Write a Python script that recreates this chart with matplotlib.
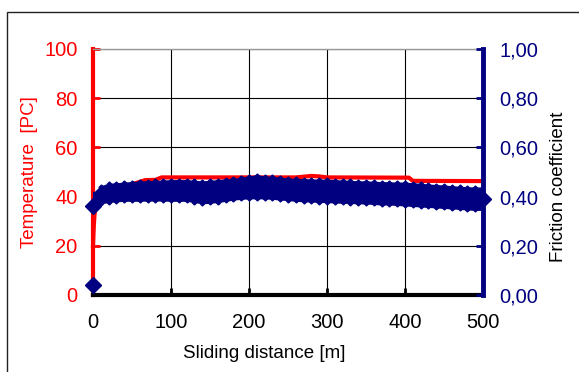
import matplotlib
matplotlib.use("Agg")
import matplotlib.pyplot as plt
from matplotlib.patches import Rectangle

plt.rcParams['font.family'] = ['Liberation Sans', 'DejaVu Sans']

# ---- data ----
temp_dist = [0, 1, 2, 4, 8, 15, 30, 50, 67, 80, 88, 150, 200, 260, 280, 290, 300, 405, 410, 500]
temperature = [20, 28, 33, 36, 39, 41, 43, 45, 46.7, 46.8, 47.8, 47.8, 47.8, 47.8, 48.4, 48.2, 47.8, 47.7, 46.4, 46.3]

fric_dist = list(range(0, 501, 10))
friction_upper = [0.41, 0.44, 0.45, 0.452, 0.455, 0.457, 0.46, 0.46, 0.462, 0.463,
                  0.465, 0.465, 0.465, 0.462, 0.46, 0.462, 0.465, 0.468, 0.47, 0.475,
                  0.48, 0.485, 0.48, 0.478, 0.475, 0.472, 0.47, 0.469, 0.468, 0.467,
                  0.467, 0.465, 0.463, 0.462, 0.46, 0.46, 0.458, 0.457, 0.456, 0.455,
                  0.455, 0.452, 0.45, 0.447, 0.445, 0.443, 0.44, 0.438, 0.436, 0.435,
                  0.435]
friction_lower = [0.37, 0.375, 0.38, 0.383, 0.385, 0.385, 0.385, 0.386, 0.386, 0.386,
                  0.385, 0.385, 0.385, 0.38, 0.375, 0.377, 0.38, 0.385, 0.39, 0.393,
                  0.395, 0.395, 0.395, 0.393, 0.39, 0.388, 0.385, 0.383, 0.382, 0.38,
                  0.38, 0.378, 0.377, 0.376, 0.375, 0.374, 0.372, 0.37, 0.37, 0.368,
                  0.366, 0.364, 0.362, 0.36, 0.358, 0.356, 0.354, 0.352, 0.35, 0.348,
                  0.348]
fric_special_dist = [0, 0, 500]
fric_special = [0.04, 0.36, 0.39]

x_ticks = [0, 100, 200, 300, 400, 500]
temp_ticks = [0, 20, 40, 60, 80, 100]
fric_ticks = [0.0, 0.2, 0.4, 0.6, 0.8, 1.0]
fric_tick_labels = ['0,00', '0,20', '0,40', '0,60', '0,80', '1,00']

RED = '#FF0000'
NAVY = '#000080'

fig = plt.figure(figsize=(5.79, 3.72), dpi=100)
# outer frame
fig.patches.append(Rectangle((7 / 579, -0.1), 1.2, (1 - 12 / 372) + 0.1,
                             transform=fig.transFigure, fill=False,
                             edgecolor='#222222', linewidth=1.0))

ax = fig.add_axes([93 / 579, 1 - 295 / 372, 390 / 579, 246 / 372])
ax.set_xlim(0, 500)
ax.set_ylim(0, 100)
ax.set_xticks(x_ticks)
ax.set_yticks(temp_ticks)
ax.grid(True, color='black', linewidth=0.8)
ax.set_axisbelow(True)

ax.plot(temp_dist, temperature, color=RED, linewidth=3, zorder=3, clip_on=False)

ax.spines['top'].set_color('#999999')
ax.spines['top'].set_linewidth(1.0)
ax.spines['right'].set_visible(False)
ax.spines['left'].set_color(RED)
ax.spines['left'].set_linewidth(3)
ax.spines['bottom'].set_color('black')
ax.spines['bottom'].set_linewidth(3)

ax.tick_params(axis='y', colors=RED, direction='in', length=5, width=2, pad=11,
               labelsize=14.5)
ax.tick_params(axis='x', colors='black', direction='in', length=5, width=2, pad=13,
               labelsize=14.5)
ax.set_xlabel('Sliding distance [m]', fontsize=13.5)
ax.xaxis.set_label_coords((264 - 93) / 390, -0.205)
ax.set_ylabel('Temperature  [PC]', fontsize=13.5, color=RED)
ax.yaxis.set_label_coords((38 - 93) / 390, 0.5)

ax2 = ax.twinx()
ax2.set_ylim(0, 1.0)
ax2.set_yticks(fric_ticks)
ax2.set_yticklabels(fric_tick_labels)
ax2.fill_between(fric_dist, friction_lower, friction_upper, color=NAVY, linewidth=1.5,
                 edgecolor=NAVY)
ax2.plot(fric_dist, friction_upper, linestyle='none', marker='D', ms=2.5,
         color=NAVY, mec=NAVY)
ax2.plot(fric_dist, friction_lower, linestyle='none', marker='D', ms=2.5,
         color=NAVY, mec=NAVY)
ax2.plot(fric_special_dist, fric_special, linestyle='none', marker='D', ms=8.5,
         color=NAVY, mec=NAVY, clip_on=False, zorder=5)

for s in ['left', 'top', 'bottom']:
    ax2.spines[s].set_visible(False)
ax2.spines['right'].set_color(NAVY)
ax2.spines['right'].set_linewidth(3.5)
ax2.tick_params(axis='y', colors=NAVY, direction='in', length=5, width=2, pad=12,
                labelsize=14.5)
ax2.set_ylabel('Friction coefficient', fontsize=13.5, color='black')
ax2.yaxis.set_label_coords((550 - 93) / 390, 0.44)

fig.savefig('out.png', dpi=100)
